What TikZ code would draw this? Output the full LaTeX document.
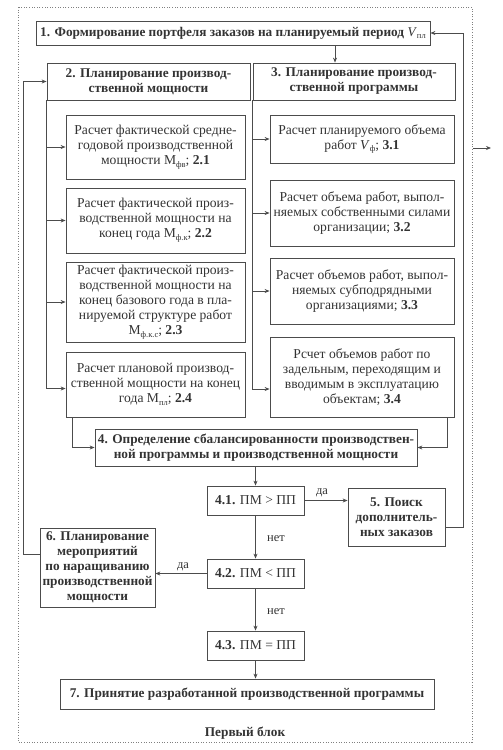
\documentclass[tikz,border=0pt]{standalone}
\usepackage{fontspec}
\setmainfont{Liberation Serif}
\usetikzlibrary{arrows.meta}
\definecolor{ln}{rgb}{0.3,0.3,0.3}
\definecolor{tx}{rgb}{0.2,0.2,0.2}
\definecolor{fr}{rgb}{0.5,0.5,0.5}
\newcommand\sbx[1]{\raisebox{-0.45ex}{\fontsize{8.5}{8.5}\selectfont #1}}
\begin{document}
\begin{tikzpicture}[x=1pt,y=-1pt,
  box/.style={draw=ln, line width=0.8pt, inner sep=0pt, align=center, text=tx, font=\fontsize{13.6}{15}\selectfont},
  bbox/.style={box, font=\fontsize{13.3}{15}\selectfont\bfseries},
  arr/.style={draw=ln, line width=0.8pt, -{Stealth[length=5pt,width=4pt]}},
  ln/.style={draw=ln, line width=0.8pt},
  lbl/.style={text=tx, font=\fontsize{12.5}{14}\selectfont, inner sep=1pt}]
\useasboundingbox (0,0) rectangle (503,750);
% frame
\draw[fr, line width=0.8pt, dash pattern=on 1pt off 1.6pt] (18,7) rectangle (472,742);
\node[text=tx, font=\fontsize{13.3}{15}\selectfont\bfseries] (title) at (245,733) {Первый блок};
% nodes
\node[bbox, minimum width=394pt, minimum height=24pt] (n1) at (233,33) {1. Формирование портфеля заказов на планируемый период \textit{\mdseries V}\sbx{\mdseries пл}};
\node[bbox, minimum width=203pt, minimum height=37pt] (n2) at (148.5,81.5) {2. Планирование производ-\\ственной мощности};
\node[bbox, minimum width=202pt, minimum height=37pt] (n3) at (354,81.5) {3. Планирование производ-\\ственной программы};
\node[box, minimum width=179pt, minimum height=64pt] (n21) at (155.5,147) {Расчет фактической средне-\\годовой производственной\\мощности М\sbx{фв}; \textbf{2.1}};
\node[box, minimum width=179pt, minimum height=65pt] (n22) at (155.5,220.5) {Расчет фактической произ-\\водственной мощности на\\конец года М\sbx{ф.к}; \textbf{2.2}};
\node[box, minimum width=179pt, minimum height=80pt] (n23) at (155.5,302) {Расчет фактической произ-\\водственной мощности на\\конец базового года в пла-\\нируемой структуре работ\\М\sbx{ф.к.с}; \textbf{2.3}};
\node[box, minimum width=179pt, minimum height=65pt] (n24) at (155.5,384.5) {Расчет плановой производ-\\ственной мощности на конец\\года М\sbx{пл}; \textbf{2.4}};
\node[box, minimum width=184pt, minimum height=48pt] (n31) at (362,139) {Расчет планируемого объема\\работ \textit{V}\sbx{ф}; \textbf{3.1}};
\node[box, minimum width=184pt, minimum height=66pt] (n32) at (362,213) {Расчет объема работ, выпол-\\няемых собственными силами\\организации; \textbf{3.2}};
\node[box, minimum width=184pt, minimum height=66pt] (n33) at (362,291) {Расчет объемов работ, выпол-\\няемых субподрядными\\организациями; \textbf{3.3}};
\node[box, minimum width=184pt, minimum height=80pt] (n34) at (362,377) {Рсчет объемов работ по\\задельным, переходящим и\\вводимым в эксплуатацию\\объектам; \textbf{3.4}};
\node[bbox, minimum width=322pt, minimum height=37pt] (n4) at (256,447.5) {4. Определение сбалансированности производствен-\\ной программы и производственной мощности};
\node[box, minimum width=97pt, minimum height=29pt] (n41) at (255.5,500.5) {\textbf{4.1.} ПМ > ПП};
\node[bbox, minimum width=97pt, minimum height=58pt] (n5) at (396.5,517) {5. Поиск\\дополнитель-\\ных заказов};
\node[box, minimum width=97pt, minimum height=29pt] (n42) at (255.5,573.5) {\textbf{4.2.} ПМ < ПП};
\node[bbox, minimum width=115pt, minimum height=79pt] (n6) at (97.5,567.5) {6. Планирование\\мероприятий\\по наращиванию\\производственной\\мощности};
\node[box, minimum width=97pt, minimum height=29pt] (n43) at (255.5,645.5) {\textbf{4.3.} ПМ = ПП};
\node[bbox, minimum width=374pt, minimum height=30pt] (n7) at (247,694) {7. Принятие разработанной производственной программы};
% labels
\node[lbl] (da1) at (322,493) {да};
\node[lbl] (net1) at (276,539) {нет};
\node[lbl] (da2) at (183,567) {да};
\node[lbl] (net2) at (276,612) {нет};
% helper coordinates
\coordinate (rr) at (463,0);
\coordinate (ll) at (23,0);
\coordinate (out1) at (473,148);
\coordinate (out2) at (491,148);
\coordinate (c24) at ([yshift=-4pt]n24.west);
\coordinate (c34) at ([yshift=-12pt]n34.west);
% connectors
\draw[arr] ([xshift=-19pt]n3.north |- n1.south) -- ([xshift=-19pt]n3.north);
\draw[arr] (n2.south west) |- (c24);
\foreach \b in {n21,n22,n23} \draw[arr] (n2.south west |- \b.west) -- (\b.west);
\draw[arr] (n3.south west) |- (c34);
\foreach \b in {n31,n32,n33} \draw[arr] (n3.south west |- \b.west) -- (\b.west);
\draw[arr] ([xshift=7pt]n24.south west) |- (n4.west);
\draw[arr] ([xshift=-7pt]n34.south east) |- (n4.east);
\draw[arr] (n41.north |- n4.south) -- (n41.north);
\draw[arr] (n41.east) -- (n41.east -| n5.west);
\draw[arr] ([yshift=-10pt]n5.east) -| (rr |- n1.east) -- (n1.east);
\draw[arr] (n41.south) -- (n42.north);
\draw[arr] (n42.west) -- (n42.west -| n6.east);
\draw[arr] ([yshift=13pt]n6.west) -| (ll |- n2.west) -- (n2.west);
\draw[arr] (n42.south) -- (n43.north);
\draw[arr] (n43.south) -- (n43.south |- n7.north);
\draw[arr] (out1) -- (out2);
\end{tikzpicture}
\end{document}
